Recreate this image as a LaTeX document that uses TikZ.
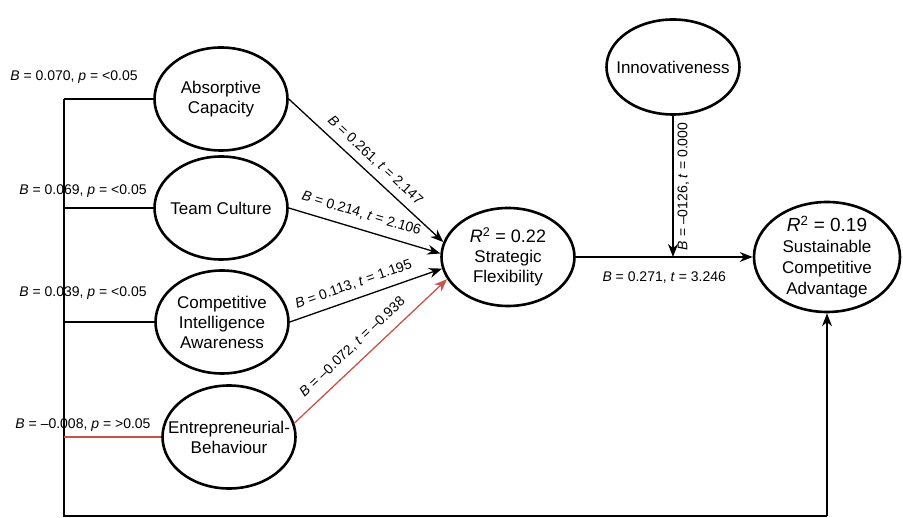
\documentclass[tikz,border=0pt]{standalone}
\usepackage{fontspec}
\setmainfont{Liberation Sans}
\usetikzlibrary{shapes.geometric,arrows.meta,positioning}
\definecolor{negred}{RGB}{199,83,73}

\begin{document}
\begin{tikzpicture}[x=1pt,y=-1pt,
	construct/.style={ellipse,draw,line width=2.6pt,inner sep=-30pt,align=center,
		minimum width=133pt,minimum height=103pt,font=\fontsize{17}{20}\selectfont},
	link/.style={line width=1.3pt},
	effect/.style={line width=1.3pt,-{Stealth[length=13pt,width=10pt]}},
	coef/.style={font=\fontsize{14}{16}\selectfont,inner sep=2pt}]
	\useasboundingbox (0,0) rectangle (903,518);

	% Draw constructs
	\node[construct] (ac) at (221,99) {Absorptive\\Capacity};
	\node[construct] (tc) at (221,208) {Team Culture};
	\node[construct] (cia) at (222,322) {Competitive\\Intelligence\\Awareness};
	\node[construct] (eb) at (229,437) {Entrepreneurial-\\Behaviour};
	\node[construct,minimum height=98pt] (sf) at (508,257)
		{{\fontsize{18}{20}\selectfont\textit{R}\textsuperscript{2} = 0.22}\\Strategic\\Flexibility};
	\node[construct,minimum height=95pt] (inn) at (673,67) {Innovativeness};
	\node[construct,minimum width=146pt,minimum height=110pt,font=\fontsize{17}{21}\selectfont] (sca) at (827,257)
		{{\fontsize{19}{23}\selectfont\textit{R}\textsuperscript{2} = 0.19}\\Sustainable\\Competitive\\Advantage};

	% Draw control bus on the left
	\coordinate (b0) at (64,516);
	\coordinate (corner) at (sca.south |- b0);
	\draw[link] (ac.west -| b0) -- (b0) -- (corner);
	\draw[effect] (corner) -- (sca.south);
	\draw[link] (ac.west) -- (ac.west -| b0);
	\draw[link] (tc.west) -- (tc.west -| b0);
	\draw[link] (cia.west) -- (cia.west -| b0);
	\draw[link,negred] (eb.west) -- (eb.west -| b0);

	% Add bus labels
	\node[coef] (c1) at (74,77) {\textit{B} = 0.070, \textit{p} = <0.05};
	\node[coef] (c2) at (83,191) {\textit{B} = 0.069, \textit{p} = <0.05};
	\node[coef] (c3) at (83,293) {\textit{B} = 0.039, \textit{p} = <0.05};
	\node[coef] (c4) at (83,425) {\textit{B} = \textendash0.008, \textit{p} = >0.05};

	% Draw paths to strategic flexibility
	\draw[effect] (ac.east) -- (sf.167)
		node[coef,midway,above=5pt,sloped] {\textit{B} = 0.261, \textit{t} = 2.147};
	\draw[effect] (tc.east) -- (sf.177)
		node[coef,pos=0.45,above=7pt,sloped] {\textit{B} = 0.214, \textit{t} = 2.106};
	\draw[effect] (cia.east) -- (sf.190)
		node[coef,pos=0.45,above=6pt,sloped] {\textit{B} = 0.113, \textit{t} = 1.195};
	\draw[effect,negred] (eb.12) -- (sf.200)
		node[coef,black,pos=0.45,above=7pt,sloped] {\textit{B} = \textendash0.072, \textit{t} = \textendash0.938};

	% Draw main path and moderator
	\draw[effect] (sf.east) -- (sca.west)
		node[coef,midway,below=12pt] {\textit{B} = 0.271, \textit{t} = 3.246};
	\coordinate (mod) at (inn.south |- sf.east);
	\draw[effect] (inn.south) -- (mod)
		node[coef,midway,rotate=90,anchor=north,inner sep=4pt] {\textit{B} = \textendash0126, \textit{t} = 0.000};
\end{tikzpicture}
\end{document}
